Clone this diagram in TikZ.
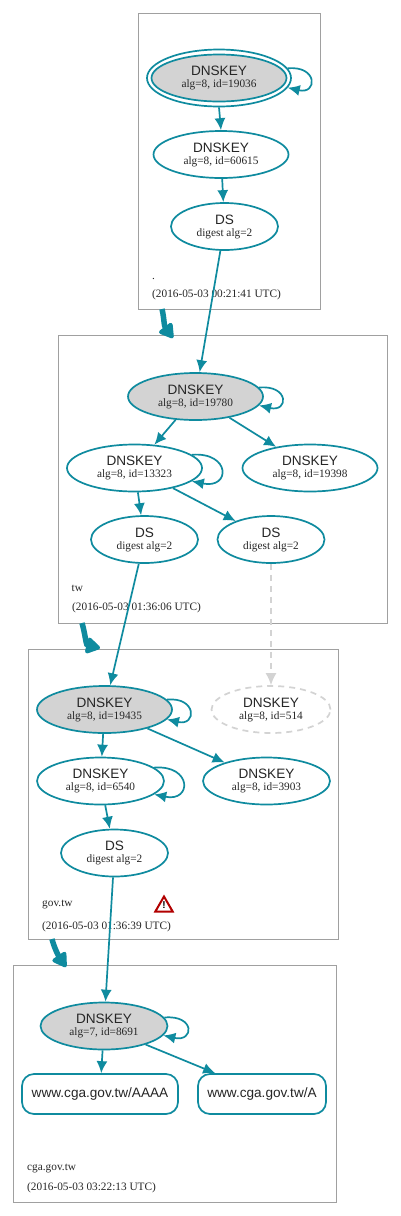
\documentclass[tikz,border=0pt]{standalone}
\usepackage{fontspec}
\setmainfont{Liberation Serif}
\newfontfamily\hv{Liberation Sans}
\usetikzlibrary{arrows.meta,shapes.geometric}
\definecolor{teal1}{HTML}{0F8B9F}
\definecolor{boxgray}{HTML}{A0A0A0}
\definecolor{fillg}{HTML}{D3D3D3}
\definecolor{dashg}{HTML}{D3D3D3}
\newcommand{\nlabel}[2]{{\hv\fontsize{13.6}{14}\selectfont #1}\\[0pt]{\fontsize{11.3}{11}\selectfont #2}}
\tikzset{
 x=1pt,y=-1pt,
 zone/.style={draw=boxgray,line width=1pt},
 keynode/.style={ellipse,draw=teal1,line width=1.7pt,minimum width=135pt,minimum height=47pt,inner sep=0pt,align=center,text=black!85},
 ksk/.style={keynode,fill=fillg},
 dsnode/.style={keynode,minimum width=107pt},
 rrnode/.style={draw=teal1,line width=1.7pt,rounded corners=12pt,minimum height=40pt,inner sep=0pt,text=black!85,font=\hv\fontsize{13.6}{14}\selectfont},
 edgea/.style={draw=teal1,line width=1.7pt,-{Latex[length=12pt,width=11pt]}},
 edged/.style={draw=dashg,line width=1.7pt,dashed,dash pattern=on 6pt off 5pt,-{Latex[length=12pt,width=11pt]}},
 thickedge/.style={draw=teal1,line width=5.5pt,-{Triangle[length=16pt,width=18pt,round]}},
 ztext/.style={anchor=base west,inner sep=0pt,font=\fontsize{11.3}{12}\selectfont,text=black!85},
}
\begin{document}
\begin{tikzpicture}
\useasboundingbox (0,0) rectangle (400,1216);
\fill[white] (0,0) rectangle (400,1216);
% zones
\draw[zone] (138,13) rectangle (320,309);
\draw[zone] (58,335) rectangle (387,623);
\draw[zone] (28,649) rectangle (338,939);
\draw[zone] (13,965) rectangle (336,1202);
% zone 1
\node[ksk] (a1) at (219,78) {\nlabel{DNSKEY}{alg=8, id=19036}};
\node[ellipse,draw=teal1,line width=1.7pt,minimum width=144pt,minimum height=57pt,inner sep=0pt] (a1o) at (219,78) {};
\node[keynode] (a2) at (221,154.5) {\nlabel{DNSKEY}{alg=8, id=60615}};
\node[dsnode] (a3) at (224.5,226.5) {\nlabel{DS}{digest alg=2}};
\node[ztext] (a4) at (152,279) {.};
\node[ztext] (a5) at (152,297) {(2016-05-03 00:21:41 UTC)};
% zone 2
\node[ksk] (b1) at (195.5,396.5) {\nlabel{DNSKEY}{alg=8, id=19780}};
\node[keynode] (b2) at (134.5,468) {\nlabel{DNSKEY}{alg=8, id=13323}};
\node[keynode] (b3) at (310,468) {\nlabel{DNSKEY}{alg=8, id=19398}};
\node[dsnode] (b4) at (144.5,539.5) {\nlabel{DS}{digest alg=2}};
\node[dsnode] (b5) at (271,539.5) {\nlabel{DS}{digest alg=2}};
\node[ztext] (b6) at (71.5,591) {tw};
\node[ztext] (b7) at (72,610) {(2016-05-03 01:36:06 UTC)};
% zone 3
\node[ksk] (c1) at (104.5,709.5) {\nlabel{DNSKEY}{alg=8, id=19435}};
\node[keynode,minimum width=119pt,draw=dashg,dashed,dash pattern=on 6pt off 5pt] (c2) at (271,709.5) {\nlabel{DNSKEY}{alg=8, id=514}};
\node[keynode,minimum width=127pt] (c3) at (100.5,781) {\nlabel{DNSKEY}{alg=8, id=6540}};
\node[keynode,minimum width=127pt] (c4) at (266.5,781) {\nlabel{DNSKEY}{alg=8, id=3903}};
\node[dsnode] (c5) at (114.5,853) {\nlabel{DS}{digest alg=2}};
\node[ztext] (c6) at (42,906) {gov.tw};
\node[ztext] (c7) at (42,929) {(2016-05-03 01:36:39 UTC)};
% warning
\node[regular polygon,regular polygon sides=3,draw=red!70!black,line width=2pt,fill=white,minimum size=20pt,inner sep=0pt] (w) at (164,906.5) {};
\node[inner sep=0pt,font=\hv\bfseries\fontsize{10}{10}\selectfont] (wt) at (164,905.5) {!};
% zone 4
\node[ksk,minimum width=127pt] (d1) at (104,1026) {\nlabel{DNSKEY}{alg=7, id=8691}};
\node[rrnode,minimum width=156pt] (d2) at (100,1094) {www.cga.gov.tw/AAAA};
\node[rrnode,minimum width=128pt] (d3) at (262,1094) {www.cga.gov.tw/A};
\node[ztext] (d4) at (27,1170) {cga.gov.tw};
\node[ztext] (d5) at (27,1190) {(2016-05-03 03:22:13 UTC)};
% edges
\draw[edgea] (a1o.south) -- (a2.north);
\draw[edgea] (a2) -- (a3);
\draw[edgea] (a3) -- (b1);
\draw[edgea] (b1) -- (b2);
\draw[edgea] (b1) -- (b3);
\draw[edgea] (b2) -- (b4);
\draw[edgea] (b2) -- (b5);
\draw[edgea] (b4) -- (c1);
\draw[edged] (b5) -- (c2);
\draw[edgea] (c1) -- (c3);
\draw[edgea] (c1) -- (c4);
\draw[edgea] (c3) -- (c5);
\draw[edgea] (c5) -- (d1);
\draw[edgea] (d1) -- (d2);
\draw[edgea] (d1.-24) -- (d3.156);
% self loops
\draw[edgea] (a1o.8.4) .. controls +(30,-3) and +(30,7) .. (a1o.-8.4);
\draw[edgea] (b1.8.6) .. controls +(30,-3) and +(30,7) .. (b1.-8.6);
\draw[edgea] (b2.13.2) .. controls +(39,-3) and +(39,8) .. (b2.-13.2);
\draw[edgea] (c1.9) .. controls +(30,-3) and +(30,7) .. (c1.-9);
\draw[edgea] (c3.14) .. controls +(38,-3) and +(38,8) .. (c3.-14);
\draw[edgea] (d1.8) .. controls +(31,-3) and +(31,7) .. (d1.-9);
% thick edges
\coordinate (t1a) at (162,309);
\coordinate (t1b) at (173,338);
\coordinate (t2a) at (82,623);
\coordinate (t2b) at (100,648);
\coordinate (t3a) at (52,939);
\coordinate (t3b) at (66,967);
\draw[thickedge] (t1a) .. controls +(2,8) and +(-9,-12) .. (t1b);
\draw[thickedge] (t2a) .. controls +(3,10) and +(-14,-3) .. (t2b);
\draw[thickedge] (t3a) .. controls +(2,8) and +(-8,-12) .. (t3b);
\end{tikzpicture}
\end{document}
